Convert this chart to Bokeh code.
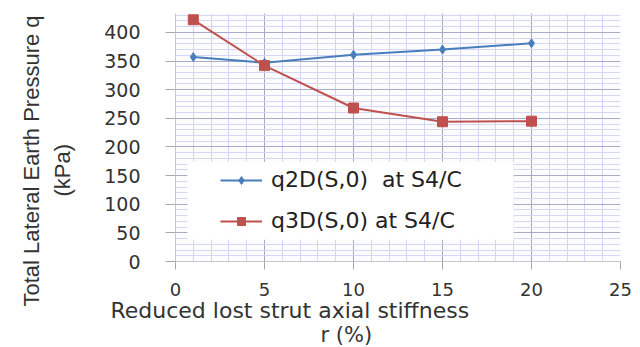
from bokeh.plotting import figure
from bokeh.models import Range1d, FixedTicker, Legend, LegendItem, BoxAnnotation, Title
from bokeh.embed import file_html
from bokeh.resources import INLINE

r_pct = [1, 5, 10, 15, 20]
q2d = [357, 347, 361, 370, 381]
q3d = [422, 342, 268, 244, 245]
x_ticks = [0, 5, 10, 15, 20, 25]
y_ticks = [0, 50, 100, 150, 200, 250, 300, 350, 400]
label_2d = "q2D(S,0)  at S4/C"
label_3d = "q3D(S,0) at S4/C"
y_title_1 = "Total Lateral Earth Pressure q"
y_title_2 = "(kPa)"
x_title_1 = "Reduced lost strut axial stiffness"
x_title_2 = "r (%)"

W, H = 640, 347
p = figure(width=W, height=H, output_backend="svg", toolbar_location=None,
           x_range=Range1d(0, 25), y_range=Range1d(0, 433),
           min_border_left=175, min_border_right=20, min_border_top=13, min_border_bottom=85)
p.outline_line_color = None
p.background_fill_color = "#fcfcff"

FONT = "DejaVu Sans"
for ax in (p.xaxis[0], p.yaxis[0]):
    ax.axis_line_color = "#c8c8c8"
    ax.major_tick_line_color = "#a8a8a8"
    ax.minor_tick_line_color = None
    ax.major_tick_in = 0
    ax.major_label_text_font = FONT
    ax.major_label_text_font_size = "18px"
    ax.major_label_text_color = "#333333"
p.yaxis.major_label_text_font_size = "19px"
p.xaxis.ticker = FixedTicker(ticks=x_ticks, minor_ticks=list(range(0, 26)))
p.yaxis.ticker = FixedTicker(ticks=y_ticks, minor_ticks=list(range(0, 440, 10)))
p.xaxis.major_tick_out = 8
p.yaxis.major_tick_out = 10
p.xaxis.major_label_standoff = 13
p.yaxis.major_label_standoff = 25
# invisible spacer label: keeps the "(kPa)" line away from the tick labels
p.yaxis.axis_label = "\u00a0"
p.yaxis.axis_label_text_font_size = "1px"
p.yaxis.axis_label_standoff = 19

p.xgrid.grid_line_color = "#a4a8c0"
p.ygrid.grid_line_color = "#a8acc8"
p.xgrid.minor_grid_line_color = "#d2d6f4"
p.ygrid.minor_grid_line_color = "#d4d8f4"

blue = "#4a7ebb"
red = "#c0504d"
l1 = p.line(r_pct, q2d, line_color=blue, line_width=2)
s1 = p.scatter(r_pct, q2d, marker="diamond", size=9, fill_color=blue, line_color=blue)
l2 = p.line(r_pct, q3d, line_color=red, line_width=2)
s2 = p.scatter(r_pct, q3d, marker="square", size=10, fill_color=red, line_color=red)

# white legend panel (as in the original, wider than the entries)
p.add_layout(BoxAnnotation(left=0.67, right=19.0, bottom=38, top=174,
                           fill_color="white", fill_alpha=1, line_color=None))

legend = Legend(items=[LegendItem(label=label_2d, renderers=[l1, s1]),
                       LegendItem(label=label_3d, renderers=[l2, s2])],
                location=(45, 28), orientation="vertical",
                border_line_color=None, background_fill_alpha=0,
                label_text_font=FONT, label_text_font_size="22px", label_text_color="#222222",
                glyph_width=42, label_standoff=9, spacing=16, padding=0, margin=0)
p.add_layout(legend, "center")

def side_title(text, size, align, offset, standoff, font, valign="bottom"):
    return Title(text=text, align=align, offset=offset, standoff=standoff,
                 vertical_align=valign,
                 text_font=font, text_font_size=size, text_font_style="normal",
                 text_color="#333333")

p.add_layout(side_title(y_title_2, "22px", "left", 65, 8, "Liberation Sans"), "left")
p.add_layout(side_title(y_title_1, "22px", "left", -45, 0, "Liberation Sans"), "left")
p.add_layout(side_title(x_title_1, "22px", "left", -65, -2, FONT, "top"), "below")
p.add_layout(side_title(x_title_2, "21px", "left", 145, -2, FONT, "top"), "below")

open("out.html", "w").write(file_html(p, INLINE))
